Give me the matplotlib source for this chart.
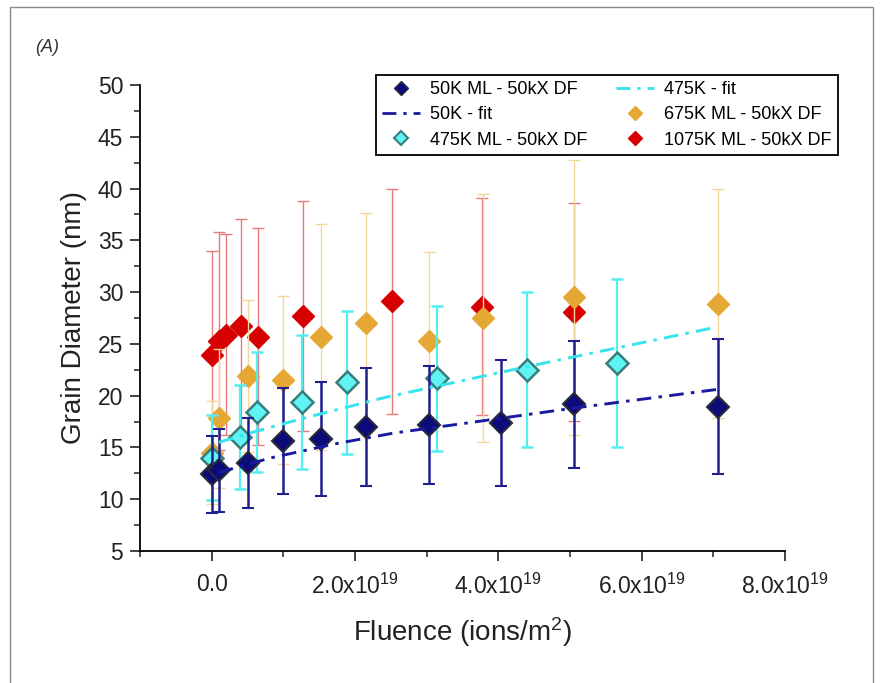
import matplotlib
matplotlib.use("Agg")
import matplotlib.pyplot as plt
from matplotlib.patches import Rectangle
from matplotlib.lines import Line2D
from matplotlib.ticker import MultipleLocator, FuncFormatter

plt.rcParams['font.family'] = ['Liberation Sans', 'DejaVu Sans']
plt.rcParams['mathtext.default'] = 'regular'

# fluence in units of 1e19 ions/m^2, diameters in nm
f50 = [0.0, 0.1, 0.5, 1.0, 1.52, 2.15, 3.03, 4.04, 5.05, 7.06]
d50 = [12.4, 12.8, 13.5, 15.6, 15.8, 17.0, 17.15, 17.35, 19.15, 18.95]
e50 = [3.7, 4.0, 4.3, 5.1, 5.5, 5.7, 5.7, 6.1, 6.1, 6.5]

f475 = [0.0, 0.4, 0.63, 1.26, 1.885, 3.14, 4.40, 5.66]
d475 = [14.0, 16.0, 18.4, 19.4, 21.3, 21.7, 22.5, 23.15]
e475 = [4.1, 5.0, 5.8, 6.5, 6.9, 7.0, 7.5, 8.1]

f675 = [0.0, 0.1, 0.5, 1.0, 1.52, 2.15, 3.03, 3.79, 5.05, 7.06]
d675 = [14.5, 17.8, 21.9, 21.5, 25.7, 27.0, 25.3, 27.5, 29.5, 28.9]
e675 = [5.0, 6.7, 7.3, 8.1, 10.9, 10.6, 8.6, 12.0, 13.3, 11.1]

f1075 = [0.0, 0.1, 0.2, 0.41, 0.64, 1.27, 2.52, 3.77, 5.05]
d1075 = [23.9, 25.3, 25.9, 26.7, 25.7, 27.7, 29.1, 28.6, 28.1]
e1075 = [10.1, 10.5, 9.7, 10.4, 10.5, 11.1, 10.9, 10.5, 10.5]

fit50_x = [0.1, 0.34, 0.83, 1.76, 2.55, 3.5, 5.0, 7.05]
fit50_y = [12.6, 13.05, 14.0, 15.4, 16.4, 17.3, 18.75, 20.6]
fit475_x = [0.1, 0.64, 1.27, 1.95, 2.4, 4.4, 7.03]
fit475_y = [15.5, 16.6, 17.8, 19.0, 19.8, 22.8, 26.6]

labels = ['50K ML - 50kX DF', '50K - fit', '475K ML - 50kX DF',
          '475K - fit', '675K ML - 50kX DF', '1075K ML - 50kX DF']

navy = '#0b0b7a'
cyan = '#5ff3f3'
orange = '#e6a835'
red = '#d60000'
dash = (0, (5, 2.5, 1.2, 2.5))


def sc(v):
    return [x * 1e19 for x in v]


fig = plt.figure(figsize=(8.83, 6.83), dpi=100)
ax = fig.add_axes([140 / 883, 1 - 551 / 683, 645 / 883, 466 / 683])

ax.errorbar(sc(f1075), d1075, yerr=e1075, fmt='D', ms=11.5, color=red, mec=red,
            ecolor='#e37b7b', elinewidth=1.0, capsize=4, capthick=1.0, zorder=2)
ax.errorbar(sc(f675), d675, yerr=e675, fmt='D', ms=11.5, color=orange, mec=orange,
            ecolor='#f3d69c', elinewidth=1.0, capsize=4, capthick=1.0, zorder=3)
ax.errorbar(sc(f475), d475, yerr=e475, fmt='D', ms=11, color=cyan, mec='#3a7d7d', mew=1.8,
            ecolor='#55eeee', elinewidth=1.6, capsize=4.5, capthick=1.6, zorder=4)
ax.errorbar(sc(f50), d50, yerr=e50, fmt='D', ms=11, color=navy, mec='#2a2a3a', mew=1.5,
            ecolor='#1f1f8e', elinewidth=1.8, capsize=4.5, capthick=1.8, zorder=5)

ax.plot(sc(fit50_x), fit50_y, color='#1a1aa0', lw=2.1, ls=dash, zorder=6)
ax.plot(sc(fit475_x), fit475_y, color='#35e4ec', lw=2.1, ls=dash, zorder=6)

ax.set_xlim(-1e19, 8e19)
ax.set_ylim(5, 50)
ax.xaxis.set_major_locator(MultipleLocator(2e19))
ax.xaxis.set_minor_locator(MultipleLocator(1e19))
ax.yaxis.set_major_locator(MultipleLocator(5))
ax.yaxis.set_minor_locator(MultipleLocator(2.5))


def fmt_x(v, pos):
    if abs(v) < 1e10:
        return '0.0'
    return '%.1fx10$^{19}$' % (v / 1e19)


ax.xaxis.set_major_formatter(FuncFormatter(fmt_x))
for s in ['top', 'right']:
    ax.spines[s].set_visible(False)
for s in ['left', 'bottom']:
    ax.spines[s].set_linewidth(1.3)
ax.tick_params(which='major', direction='out', length=7, width=1.2, labelsize=16.5, colors='#222222')
ax.tick_params(which='minor', direction='out', length=4, width=1.1, colors='#222222')
ax.tick_params(axis='x', pad=9)
ax.tick_params(axis='y', pad=5)

ax.set_xlabel('Fluence (ions/m$^2$)', fontsize=20, labelpad=12, color='#222222')
ax.set_ylabel('Grain Diameter (nm)', fontsize=20, labelpad=8, color='#222222')

handles = [
    Line2D([], [], ls='none', marker='D', ms=7.5, color=navy, mec='#2a2a3a'),
    Line2D([], [], color='#1a1aa0', lw=2.0, ls=dash),
    Line2D([], [], ls='none', marker='D', ms=7.5, color=cyan, mec='#3a7d7d', mew=1.5),
    Line2D([], [], color='#35e4ec', lw=2.0, ls=dash),
    Line2D([], [], ls='none', marker='D', ms=7.5, color=orange, mec=orange),
    Line2D([], [], ls='none', marker='D', ms=7.5, color=red, mec=red),
]
leg = fig.legend(handles, labels, ncol=2, loc='upper right',
                 bbox_to_anchor=(838 / 883, 1 - 75 / 683), fontsize=13,
                 frameon=True, fancybox=False, edgecolor='black', framealpha=1,
                 borderpad=0.35, labelspacing=0.45, handlelength=2.1,
                 handletextpad=0.55, columnspacing=1.6, borderaxespad=0)
leg.get_frame().set_linewidth(1.3)

fig.text(35 / 883, 1 - 47 / 683, '(A)', fontsize=13, style='italic', color='#333333',
         va='center', ha='left')

fig.patches.append(Rectangle((10 / 883, -0.02), 863 / 883, 1.02 - 7 / 683,
                             transform=fig.transFigure, fill=False,
                             edgecolor='#8a8a8a', lw=1.0))

fig.savefig('out.png', dpi=100)
